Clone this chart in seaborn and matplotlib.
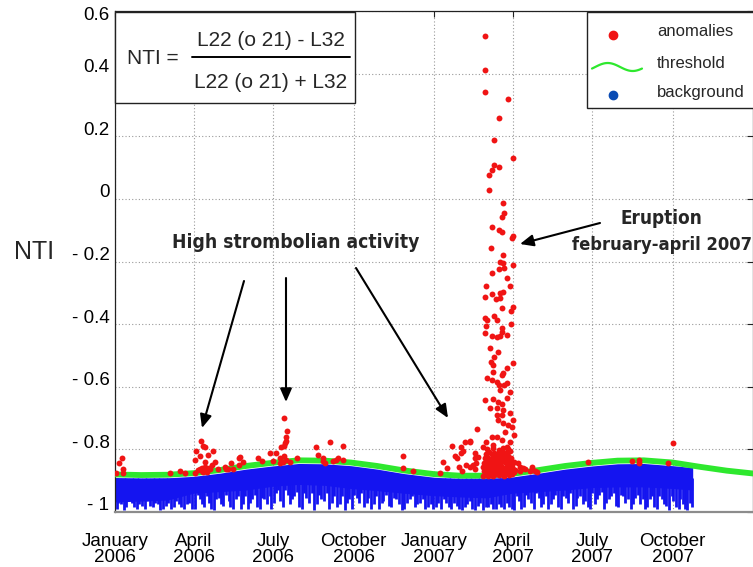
import os

import pandas as pd
import matplotlib
matplotlib.use("Agg")
import matplotlib.pyplot as plt
import matplotlib.transforms as mtransforms
from matplotlib import font_manager
from matplotlib.patches import Rectangle
from matplotlib.lines import Line2D
import numpy as np
import seaborn as sns


START = pd.Timestamp("2006-01-01")
END = pd.Timestamp("2008-01-01")

# threshold curve: (days since 1 Jan 2006, NTI)
threshold_day = [0, 30, 60, 90, 120, 150, 180, 210, 240, 270, 300, 330, 365,
                 395, 425, 455, 485, 515, 546, 575, 605, 638, 670, 700, 730]
threshold_nti = [-0.880, -0.882, -0.881, -0.876, -0.866, -0.853, -0.843, -0.835,
                 -0.836, -0.842, -0.853, -0.867, -0.879, -0.884, -0.884, -0.878,
                 -0.866, -0.853, -0.843, -0.836, -0.835, -0.842, -0.856, -0.868,
                 -0.877]

# background band: solid body (top / bottom) ...
bg_day = [0, 30, 60, 90, 120, 150, 180, 210, 240, 270, 300, 330, 365,
          395, 425, 455, 485, 515, 546, 575, 605, 638, 661]
bg_top = [-0.890, -0.892, -0.891, -0.886, -0.876, -0.863, -0.853, -0.845,
          -0.846, -0.852, -0.863, -0.877, -0.889, -0.894, -0.894, -0.888,
          -0.876, -0.863, -0.853, -0.846, -0.845, -0.852, -0.858]
bg_bottom = [-0.968, -0.965, -0.962, -0.940, -0.935, -0.930, -0.918, -0.912,
             -0.915, -0.925, -0.932, -0.940, -0.948, -0.952, -0.955, -0.940,
             -0.935, -0.930, -0.922, -0.920, -0.920, -0.925, -0.930]

# ... and its downward dips (day, lowest NTI)
bg_dips_2006 = [(2, -0.99), (7, -0.975), (13, -0.985), (19, -0.97), (25, -0.99),
                (31, -0.98), (37, -0.965), (43, -0.985), (49, -0.975), (55, -0.99),
                (61, -0.97), (67, -0.985), (73, -0.975), (79, -0.99), (85, -0.97),
                (92, -0.99), (97, -0.96), (102, -0.985), (108, -0.97), (113, -0.995),
                (119, -0.955), (124, -0.98), (130, -0.965), (135, -0.99), (141, -0.95),
                (146, -0.975), (152, -0.99), (157, -0.96), (163, -0.985), (168, -0.955),
                (174, -0.975), (179, -0.99), (184, -0.94), (189, -0.965), (195, -0.93),
                (200, -0.975), (205, -0.95), (211, -0.985), (216, -0.94), (222, -0.97),
                (228, -0.995), (233, -0.945), (239, -0.965), (245, -0.99), (251, -0.95),
                (257, -0.975), (263, -0.995), (268, -0.96), (274, -0.945), (279, -0.97),
                (285, -0.985), (290, -0.955), (296, -0.975), (302, -0.99), (307, -0.965),
                (313, -0.98), (319, -0.955), (325, -0.975), (331, -0.99), (337, -0.96),
                (343, -0.985), (349, -0.97), (355, -0.99), (361, -0.975),
                (4, -0.97), (10, -0.995), (16, -0.96), (22, -0.985), (28, -0.975),
                (34, -0.99), (40, -0.98), (46, -0.97), (52, -0.995), (58, -0.98),
                (64, -0.99), (70, -0.965), (76, -0.985), (82, -0.975), (88, -0.99),
                (95, -0.945), (100, -0.975), (105, -0.95), (110, -0.99), (116, -0.96),
                (121, -0.975), (127, -0.945), (132, -0.985), (138, -0.96), (144, -0.99),
                (149, -0.95), (155, -0.97), (160, -0.945), (166, -0.99), (171, -0.96),
                (177, -0.95), (182, -0.97), (187, -0.93), (192, -0.985), (198, -0.945),
                (203, -0.96), (208, -0.935), (214, -0.99), (219, -0.955), (225, -0.94),
                (231, -0.975), (236, -0.96), (242, -0.94), (248, -0.97), (254, -0.985),
                (260, -0.95), (266, -0.97), (271, -0.99), (277, -0.955), (282, -0.94),
                (288, -0.97), (293, -0.99), (299, -0.95), (305, -0.97), (310, -0.945),
                (316, -0.985), (322, -0.96), (328, -0.995), (334, -0.97), (340, -0.95),
                (346, -0.975), (352, -0.96), (358, -0.985), (364, -0.99)]
bg_dips_2007 = [(367, -0.985), (373, -0.99), (379, -0.97), (385, -0.99), (391, -0.98),
                (397, -0.995), (403, -0.975), (409, -0.99), (415, -0.98), (421, -0.995),
                (427, -0.985), (433, -0.99), (439, -0.975), (445, -0.99), (451, -0.985),
                (457, -0.995), (462, -0.965), (468, -0.985), (473, -0.96), (479, -0.99),
                (485, -0.955), (490, -0.975), (496, -0.99), (501, -0.96), (507, -0.985),
                (513, -0.95), (518, -0.97), (524, -0.99), (529, -0.955), (535, -0.975),
                (541, -0.985), (546, -0.94), (551, -0.96), (557, -0.935), (562, -0.97),
                (568, -0.95), (573, -0.98), (579, -0.945), (584, -0.97), (590, -0.99),
                (595, -0.955), (601, -0.975), (606, -0.99), (612, -0.96), (617, -0.985),
                (623, -0.95), (628, -0.975), (634, -0.995), (639, -0.965), (645, -0.99),
                (650, -0.975), (655, -0.995), (660, -0.985),
                (370, -0.97), (376, -0.96), (382, -0.985), (388, -0.97), (394, -0.99),
                (400, -0.985), (406, -0.965), (412, -0.995), (418, -0.97), (424, -0.985),
                (430, -0.975), (436, -0.99), (442, -0.985), (448, -0.97), (454, -0.99),
                (460, -0.95), (465, -0.99), (470, -0.945), (476, -0.97), (482, -0.94),
                (487, -0.985), (493, -0.95), (499, -0.975), (504, -0.945), (510, -0.99),
                (516, -0.955), (521, -0.94), (527, -0.98), (532, -0.95), (538, -0.965),
                (543, -0.99), (549, -0.975), (554, -0.945), (560, -0.99), (565, -0.96),
                (571, -0.94), (576, -0.985), (581, -0.95), (587, -0.96), (593, -0.975),
                (598, -0.945), (604, -0.96), (609, -0.985), (615, -0.95), (620, -0.99),
                (626, -0.96), (631, -0.98), (637, -0.95), (642, -0.985), (647, -0.96),
                (652, -0.99), (658, -0.97)]

# anomalies (day, NTI), grouped by episode
early_2006 = [(1, -0.874), (5, -0.845), (8, -0.829), (9, -0.864), (9, -0.877),
              (63, -0.874), (74, -0.868), (80, -0.877)]
april_2006 = [(91, -0.833), (93, -0.804), (98, -0.772), (101, -0.788), (103, -0.791),
              (97, -0.820), (103, -0.839), (106, -0.817), (112, -0.804), (111, -0.849),
              (114, -0.839), (97, -0.864), (101, -0.871), (103, -0.855), (109, -0.864),
              (91, -0.874), (118, -0.864), (126, -0.855), (127, -0.864), (129, -0.864),
              (133, -0.845), (135, -0.864), (142, -0.826), (143, -0.823), (146, -0.839),
              (142, -0.849), (99, -0.868), (105, -0.872), (107, -0.861), (95, -0.866),
              (100, -0.858)]
july_2006 = [(164, -0.826), (168, -0.836), (177, -0.813), (181, -0.836), (184, -0.813),
             (189, -0.829), (193, -0.699), (197, -0.740), (196, -0.759), (196, -0.772),
             (194, -0.781), (193, -0.788), (190, -0.794), (193, -0.820), (192, -0.839),
             (196, -0.833), (189, -0.842), (200, -0.839), (208, -0.829)]
autumn_2006 = [(230, -0.794), (232, -0.817), (238, -0.836), (240, -0.845), (238, -0.826),
               (246, -0.778), (249, -0.836), (253, -0.833), (261, -0.788), (255, -0.829),
               (261, -0.833), (329, -0.820), (329, -0.861), (341, -0.868)]
winter_2007 = [(375, -0.839), (372, -0.874), (380, -0.861), (386, -0.788), (394, -0.855),
               (391, -0.826), (396, -0.810), (396, -0.791), (406, -0.772), (414, -0.734),
               (397, -0.868), (412, -0.864), (410, -0.849), (415, -0.823), (398, -0.804),
               (389, -0.820), (400, -0.778), (406, -0.778), (412, -0.810), (412, -0.826),
               (413, -0.842), (402, -0.849), (406, -0.855)]
eruption_column = [(423, 0.520), (423, 0.411), (423, 0.341), (450, 0.319), (439, 0.258),
                   (434, 0.188), (455, 0.131), (434, 0.108), (431, 0.093), (439, 0.102),
                   (428, 0.077), (428, 0.029), (444, -0.013), (445, -0.045), (443, -0.057),
                   (431, -0.089), (439, -0.099), (443, -0.105), (454, -0.124), (455, -0.118),
                   (430, -0.156), (444, -0.179), (440, -0.201), (444, -0.204), (455, -0.211),
                   (445, -0.220), (439, -0.223), (431, -0.236), (448, -0.252), (425, -0.278),
                   (452, -0.278), (444, -0.297), (441, -0.300), (431, -0.303), (423, -0.313),
                   (436, -0.319), (440, -0.316), (455, -0.344), (443, -0.348), (453, -0.357),
                   (423, -0.380), (426, -0.386), (434, -0.373), (437, -0.386), (453, -0.399),
                   (425, -0.405), (443, -0.411), (423, -0.427), (431, -0.437), (437, -0.440),
                   (443, -0.424), (440, -0.437), (448, -0.434), (429, -0.475), (438, -0.488),
                   (434, -0.504), (430, -0.520), (455, -0.523), (432, -0.530), (449, -0.539),
                   (432, -0.552), (444, -0.555), (443, -0.561), (426, -0.571), (431, -0.577),
                   (437, -0.584), (439, -0.593), (445, -0.593), (449, -0.587), (440, -0.609),
                   (452, -0.616), (423, -0.641), (432, -0.638), (449, -0.635), (438, -0.648),
                   (443, -0.654), (429, -0.667), (437, -0.667), (444, -0.673), (437, -0.689),
                   (443, -0.689), (452, -0.683), (438, -0.705), (455, -0.705), (444, -0.715),
                   (450, -0.721), (454, -0.730), (446, -0.743), (456, -0.753), (431, -0.759),
                   (437, -0.762), (443, -0.769), (452, -0.775), (425, -0.775), (432, -0.785),
                   (448, -0.791), (421, -0.794)]
eruption_base = [(421, -0.884), (424, -0.879), (427, -0.885), (430, -0.881), (433, -0.884),
                 (436, -0.878), (439, -0.883), (442, -0.880), (445, -0.884), (448, -0.877),
                 (451, -0.882), (454, -0.879), (457, -0.872), (422, -0.870), (425, -0.866),
                 (428, -0.872), (431, -0.868), (434, -0.873), (437, -0.865), (440, -0.870),
                 (443, -0.867), (446, -0.872), (449, -0.864), (452, -0.869), (455, -0.862),
                 (458, -0.866), (421, -0.856), (424, -0.852), (427, -0.858), (430, -0.851),
                 (433, -0.857), (436, -0.850), (439, -0.855), (442, -0.852), (445, -0.858),
                 (448, -0.850), (451, -0.854), (454, -0.849), (422, -0.842), (425, -0.838),
                 (428, -0.844), (431, -0.837), (434, -0.843), (437, -0.839), (440, -0.845),
                 (443, -0.836), (446, -0.841), (449, -0.838), (452, -0.843), (456, -0.840),
                 (423, -0.828), (426, -0.823), (429, -0.830), (432, -0.824), (435, -0.829),
                 (438, -0.822), (441, -0.827), (444, -0.825), (447, -0.830), (450, -0.821),
                 (453, -0.826), (424, -0.814), (428, -0.809), (431, -0.816), (434, -0.810),
                 (437, -0.815), (440, -0.808), (443, -0.813), (446, -0.811), (449, -0.817),
                 (452, -0.806), (426, -0.800), (433, -0.797), (439, -0.802), (444, -0.796),
                 (450, -0.800), (461, -0.842), (463, -0.855), (467, -0.858), (477, -0.855),
                 (463, -0.868), (469, -0.862), (475, -0.868), (480, -0.868), (483, -0.871)]
late_2007 = [(541, -0.839), (591, -0.836), (599, -0.833), (599, -0.842), (633, -0.845),
             (638, -0.781)]

tick_dates = ["2006-01-01", "2006-04-01", "2006-07-01", "2006-10-01", "2007-01-01",
              "2007-04-01", "2007-07-01", "2007-10-01"]
tick_labels = ["January\n2006", "April\n2006", "July\n2006", "October\n2006",
               "January\n2007", "April\n2007", "July\n2007", "October\n2007"]
ytick_values = [0.6, 0.4, 0.2, 0.0, -0.2, -0.4, -0.6, -0.8, -1.0]
ytick_labels = ["0.6", "0.4", "0.2", "0", "- 0.2", "- 0.4", "- 0.6", "- 0.8", "- 1"]

RED = "#f01414"
GREEN = "#2ee82e"
BLUE = "#1414f0"

W, H = 753, 567


def to_dates(days):
    return START + pd.to_timedelta(np.asarray(days), unit="D")


def fig_xy(x, y):
    # pixel position in the picture -> figure fraction
    return x / W, 1 - y / H


def narrow_bold():
    # a narrow / condensed bold face if one is installed
    for f in font_manager.fontManager.ttflist:
        base = os.path.basename(f.fname)
        if base in ("LiberationSansNarrow-Bold.ttf", "DejaVuSansCondensed-Bold.ttf"):
            return font_manager.FontProperties(fname=f.fname)
    return font_manager.FontProperties(family="Liberation Sans", weight="bold")


def main():
    sns.set_style("white")
    plt.rcParams["font.family"] = ["Liberation Sans", "DejaVu Sans"]

    fig = plt.figure(figsize=(W / 100, H / 100), dpi=100)
    ax = fig.add_axes([115 / W, 1 - 512 / H, 638 / W, 501 / H])

    # background band
    ax.fill_between(to_dates(bg_day), bg_bottom, bg_top, color=BLUE, lw=0, zorder=2)
    dips = pd.DataFrame(bg_dips_2006 + bg_dips_2007, columns=["day", "nti"])
    ax.vlines(to_dates(dips["day"]), dips["nti"], -0.89, color=BLUE, lw=2.0, zorder=2)

    # threshold
    sns.lineplot(x=to_dates(threshold_day), y=threshold_nti, color=GREEN, lw=4.2,
                 ax=ax, zorder=3)

    # anomalies
    anom = pd.DataFrame(early_2006 + april_2006 + july_2006 + autumn_2006
                        + winter_2007 + eruption_column + eruption_base + late_2007,
                        columns=["day", "nti"])
    anom["date"] = to_dates(anom["day"])
    sns.scatterplot(data=anom, x="date", y="nti", color=RED, s=18, linewidth=0,
                    ax=ax, zorder=4, legend=False)

    ax.set_xlim(START, END)
    ax.set_ylim(-1.0, 0.6)
    ax.set_xlabel("")
    ax.set_ylabel("")
    ax.set_xticks(pd.to_datetime(tick_dates))
    ax.set_xticklabels(tick_labels, linespacing=0.9)
    ax.set_yticks(ytick_values)
    ax.set_yticklabels(ytick_labels)
    ax.tick_params(axis="both", direction="in", length=4, width=0.8, top=True,
                   right=True, labelsize=13.5, colors="#222222")
    ax.tick_params(axis="x", pad=15)
    ax.tick_params(axis="y", pad=4)
    ax.tick_params(labelcolor="black")
    # labels sit a little above their grid lines, the top one a bit below
    for i, lbl in enumerate(ax.get_yticklabels()):
        dy = -3 if i == 0 else 8
        shift = mtransforms.ScaledTranslation(0, dy / 100, fig.dpi_scale_trans)
        lbl.set_transform(lbl.get_transform() + shift)

    ax.grid(True, linestyle=(0, (1, 2)), color="#9a9a9a", lw=0.8)
    ax.set_axisbelow(True)
    for side in ["top", "left", "right"]:
        ax.spines[side].set_color("#222222")
        ax.spines[side].set_linewidth(0.9)
    ax.spines["bottom"].set_color("#8c8c8c")
    ax.spines["bottom"].set_linewidth(1.6)

    fig.text(*fig_xy(34, 252), "NTI", fontsize=18, ha="center", va="center")

    # formula box
    fig.add_artist(Rectangle(fig_xy(115, 103), 240 / W, 91 / H, transform=fig.transFigure,
                             facecolor="white", edgecolor="#222222", lw=1, zorder=5))
    fig.text(*fig_xy(153, 59), "NTI =", fontsize=15, ha="center", va="center", zorder=6)
    fig.text(*fig_xy(271, 41), "L22 (o 21) - L32", fontsize=15, ha="center",
             va="center", zorder=6)
    fig.text(*fig_xy(271, 82), "L22 (o 21) + L32", fontsize=15, ha="center",
             va="center", zorder=6)
    x0, y0 = fig_xy(192, 57)
    x1, _ = fig_xy(350, 57)
    fig.add_artist(Line2D([x0, x1], [y0, y0], color="black", lw=1.4, zorder=6))

    # legend box
    fig.add_artist(Rectangle(fig_xy(587, 108), 200 / W, 96 / H, transform=fig.transFigure,
                             facecolor="white", edgecolor="#222222", lw=1, zorder=5))
    mx, my = fig_xy(613, 35)
    fig.add_artist(Line2D([mx], [my], marker="o", ms=6, color=RED, ls="none", zorder=6))
    mx, my = fig_xy(613, 95)
    fig.add_artist(Line2D([mx], [my], marker="o", ms=6, color="#0a4cb4", ls="none",
                          zorder=6))
    wx = np.linspace(592, 642, 40)
    wy = 67 - 4 * np.sin(2 * np.pi * (wx - 592) / 50 - 0.4)
    fig.add_artist(Line2D(wx / W, 1 - wy / H, color=GREEN, lw=1.6, zorder=6))
    for ty, txt in [(32, "anomalies"), (63, "threshold"), (93, "background")]:
        fig.text(*fig_xy(657, ty), txt, fontsize=12, ha="left", va="center", zorder=6)

    # annotations, sized so the bold captions keep the reference widths
    fp = narrow_bold()
    captions = [((296, 243), "High strombolian activity", 246),
                ((661, 218), "Eruption", 82),
                ((662, 245), "february-april 2007", 180)]
    renderer = fig.canvas.get_renderer()
    for (cx, cy), txt, target in captions:
        t = fig.text(*fig_xy(cx, cy), txt, fontproperties=fp, fontsize=16.5,
                     fontweight="bold", ha="center", va="center")
        width = t.get_window_extent(renderer).width
        t.set_fontsize(min(16.5, 16.5 * target / width))

    arrow = dict(arrowstyle="-|>,head_length=0.8,head_width=0.35", lw=1.5,
                 color="black", shrinkA=0, shrinkB=0)
    for (xa, ya), (xb, yb) in [((244, 281), (202, 428)),
                               ((286, 278), (286, 402)),
                               ((356, 268), (448, 418)),
                               ((600, 223), (520, 244))]:
        ax.annotate("", xy=fig_xy(xb, yb), xytext=fig_xy(xa, ya),
                    xycoords="figure fraction", textcoords="figure fraction",
                    arrowprops=arrow, zorder=7)

    fig.savefig("out.png", dpi=100)
    plt.close(fig)


if __name__ == "__main__":
    main()
